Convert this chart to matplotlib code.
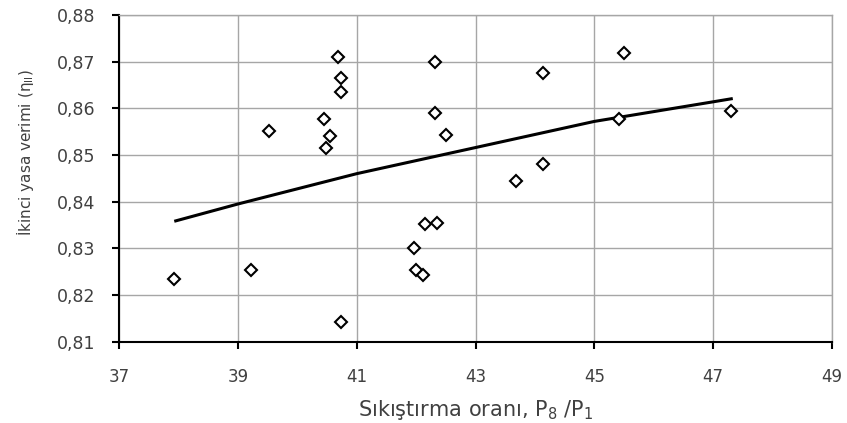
import matplotlib
matplotlib.use("Agg")
import matplotlib.pyplot as plt

# Scatter data (compression ratio vs second-law efficiency)
ratio = [40.68, 40.74, 40.74, 40.45, 39.53, 40.55, 40.48, 42.31, 42.32, 42.50,
         45.50, 44.13, 45.42, 47.30, 44.13, 43.68,
         37.93, 39.22, 40.74, 42.15, 42.35, 41.97, 42.00, 42.11]
eff = [0.8711, 0.8665, 0.8634, 0.8577, 0.8551, 0.8540, 0.8516, 0.8699, 0.8590, 0.8542,
       0.8718, 0.8676, 0.8577, 0.8594, 0.8481, 0.8444,
       0.8235, 0.8253, 0.8143, 0.8352, 0.8354, 0.8301, 0.8253, 0.8243]

# Trendline
trend_x = [37.93, 39.0, 41.0, 43.0, 45.0, 47.0, 47.33]
trend_y = [0.8358, 0.8395, 0.8460, 0.8516, 0.8572, 0.8614, 0.8621]

x_ticks = [37, 39, 41, 43, 45, 47, 49]
y_ticks = [0.81, 0.82, 0.83, 0.84, 0.85, 0.86, 0.87, 0.88]
y_tick_labels = ["0,81", "0,82", "0,83", "0,84", "0,85", "0,86", "0,87", "0,88"]

plt.rcParams['mathtext.default'] = 'regular'
fig = plt.figure(figsize=(8.47, 4.23), dpi=100)
ax = fig.add_axes([119/847, 1-341.7/423, (832-119)/847, (341.7-15)/423])

grid_c = '#a6a6a6'
txt_c = '#404040'
ax.set_xlim(37, 49)
ax.set_ylim(0.81, 0.88)
ax.set_xticks(x_ticks)
ax.set_xticklabels([str(t) for t in x_ticks])
ax.set_yticks(y_ticks)
ax.set_yticklabels(y_tick_labels)
ax.grid(True, color=grid_c, linewidth=1.0)
ax.set_axisbelow(True)

for s in ['top', 'right']:
    ax.spines[s].set_color(grid_c)
    ax.spines[s].set_linewidth(1.0)
for s in ['left', 'bottom']:
    ax.spines[s].set_color('black')
    ax.spines[s].set_linewidth(1.5)

ax.tick_params(axis='both', direction='out', length=5, width=1.5, color='black',
               labelcolor=txt_c)
ax.tick_params(axis='x', pad=14, labelsize=12)
ax.tick_params(axis='y', pad=12, labelsize=12.5)

ax.plot(trend_x, trend_y, color='black', linewidth=2.2, solid_capstyle='butt', zorder=3)
ax.plot(ratio, eff, linestyle='none', marker='D', markersize=6.5,
        markerfacecolor='white', markeredgecolor='black', markeredgewidth=1.5, zorder=4)

ax.set_xlabel('Sıkıştırma oranı, P$_8$ /P$_1$', fontsize=15, color=txt_c)
ax.xaxis.set_label_coords(0.5, (341.7-410)/326.7)
ax.xaxis.label.set_va('center')
ax.set_ylabel('İkinci yasa verimi (η$_{II}$)', fontsize=11, color=txt_c)
ax.yaxis.set_label_coords((25-119)/713, (341.7-152)/326.7)
ax.yaxis.label.set_va('center')

fig.savefig('out.png', dpi=100)
